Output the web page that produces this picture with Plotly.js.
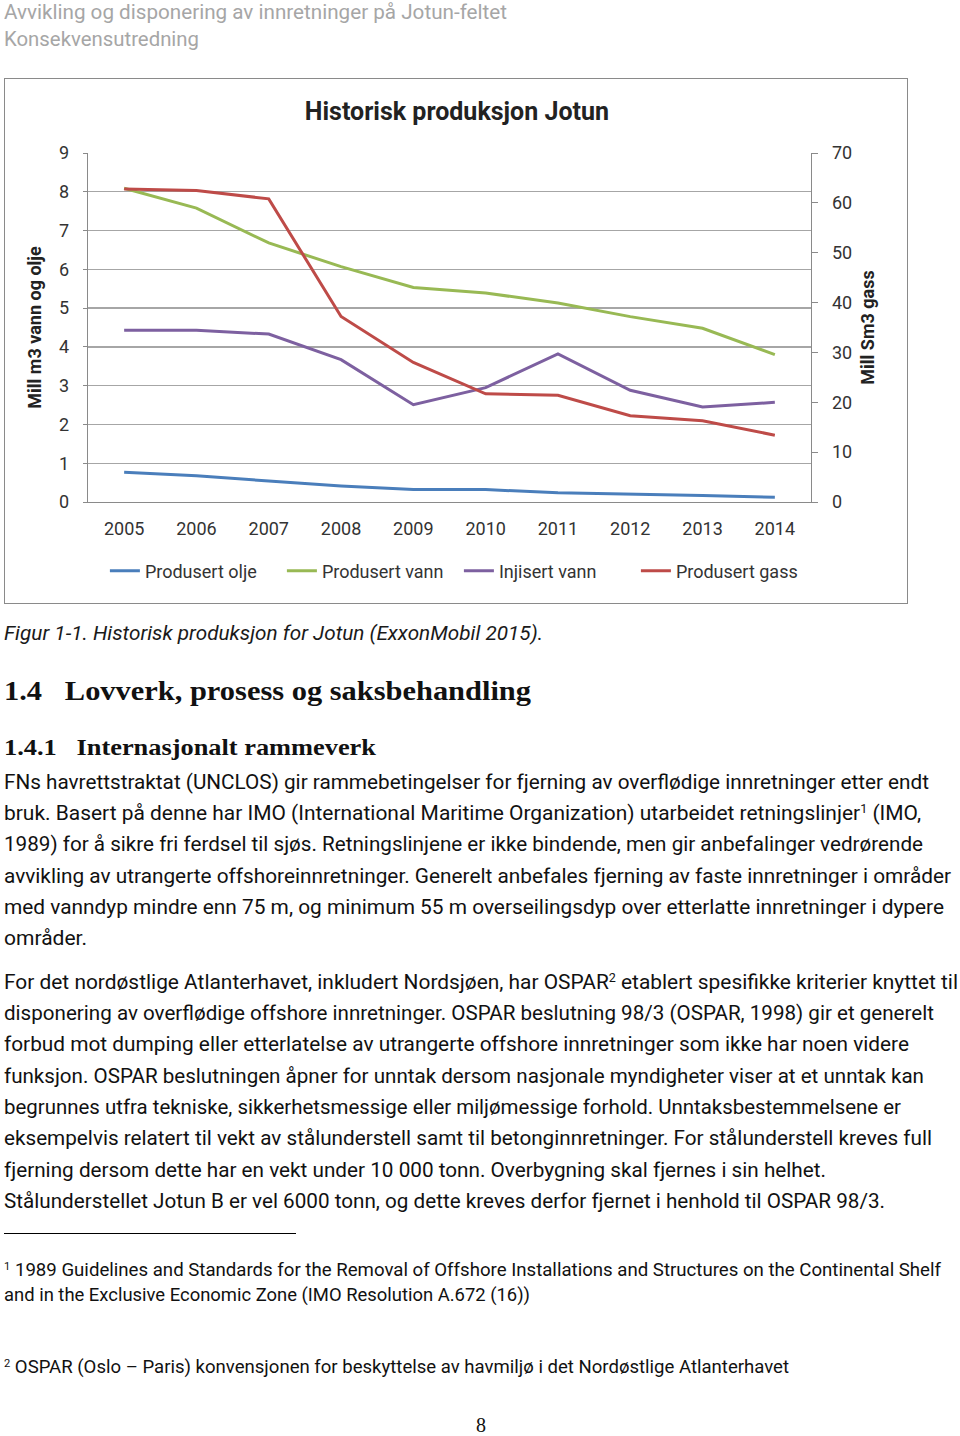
<!DOCTYPE html>
<html>
<head>
<meta charset="utf-8">
<script src="https://cdn.plot.ly/plotly-3.0.1.min.js"></script>
<style>
  html, body { margin:0; padding:0; background:#fff; }
  body { width:960px; height:1436px; position:relative; overflow:hidden; font-family: Roboto, "Noto Sans", sans-serif; }
  .ln { position:absolute; white-space:nowrap; transform-origin:0 50%; color:#111; }
  #frame { position:absolute; left:4px; top:78px; width:904px; height:526px; border:1px solid #8a8a8a; box-sizing:border-box; }
  #chart { position:absolute; left:0; top:0; width:902px; height:524px; }
  #sep { position:absolute; left:4px; top:1233px; width:292px; height:0; border-top:1px solid #000; }
  sup { font-size:0.6em; vertical-align:0.55em; line-height:0; }
</style>
</head>
<body>
<div id="frame"><div id="chart"></div></div>
<div id="sep"></div>
<script>
// ---- chart data ----
const years = ['2005','2006','2007','2008','2009','2010','2011','2012','2013','2014'];
const produsertOlje  = [0.77, 0.68, 0.54, 0.41, 0.32, 0.32, 0.24, 0.21, 0.17, 0.12];
const produsertVann  = [8.09, 7.58, 6.68, 6.07, 5.53, 5.39, 5.13, 4.78, 4.48, 3.80];
const injisertVann   = [4.43, 4.43, 4.33, 3.67, 2.51, 2.95, 3.82, 2.88, 2.45, 2.57];
const produsertGass  = [62.8, 62.5, 60.8, 37.2, 28.0, 21.7, 21.4, 17.3, 16.3, 13.4];
const seriesNames = ['Produsert olje', 'Produsert vann', 'Injisert vann', 'Produsert gass'];
const leftTicks = [0,1,2,3,4,5,6,7,8,9];
const rightTicks = [0,10,20,30,40,50,60,70];
const chartTitle = 'Historisk produksjon Jotun';
const leftTitle = 'Mill m3 vann og olje';
const rightTitle = 'Mill Sm3 gass';

const FONT = 'Roboto, "Noto Sans", sans-serif';
const colors = ['#4A7EBB', '#98B954', '#7D60A0', '#BE4B48'];

const traces = [
  {x: years, y: produsertOlje, name: seriesNames[0], yaxis:'y'},
  {x: years, y: produsertVann, name: seriesNames[1], yaxis:'y'},
  {x: years, y: injisertVann, name: seriesNames[2], yaxis:'y'},
  {x: years, y: produsertGass, name: seriesNames[3], yaxis:'y2'}
].map((t,i)=>Object.assign(t,{type:'scatter', mode:'lines', line:{color:colors[i], width:3}, hoverinfo:'skip'}));

const layout = {
  width: 902, height: 524,
  margin: {l:83, r:96, t:74, b:101},
  paper_bgcolor:'#fff', plot_bgcolor:'#fff',
  font: {family: FONT, color:'#333', size:18},
  title: {text: '<b>'+chartTitle+'</b>', font:{size:25, color:'#222', family:FONT}, xref:'container', x:0.501, yref:'container', y:0.939, xanchor:'center', yanchor:'middle'},
  showlegend: true,
  legend: {orientation:'h', x:0.513, xanchor:'center', y:-0.198, yanchor:'middle', font:{size:18, color:'#333'}, itemwidth:30, entrywidth:132, entrywidthmode:'pixels', tracegroupgap:0},
  xaxis: {type:'category', range:[-0.5, 9.5], showgrid:false, showline:true, linecolor:'#8a8a8a', linewidth:1.3, ticks:'', tickfont:{size:18}, ticklabelstandoff:10, fixedrange:true},
  yaxis: {range:[0,9], tickvals:leftTicks, ticktext:leftTicks.map(String), showgrid:true, gridcolor:'#a6a6a6', gridwidth:1.3, showline:true, linecolor:'#8a8a8a', linewidth:1.3, ticks:'outside', ticklen:4, tickcolor:'#8a8a8a', ticklabelstandoff:10, zeroline:false,
          title:{text:'<b>'+leftTitle+'</b>', font:{size:18, color:'#222'}, standoff:12}},
  yaxis2: {overlaying:'y', side:'right', range:[0,70], tickvals:rightTicks, ticktext:rightTicks.map(String), showgrid:false, showline:true, linecolor:'#8a8a8a', linewidth:1.3, ticks:'outside', ticklen:6, tickcolor:'#8a8a8a', ticklabelstandoff:10, zeroline:false,
          title:{text:'<b>'+rightTitle+'</b>', font:{size:18, color:'#222'}, standoff:10}}
};
Plotly.newPlot('chart', traces, layout, {staticPlot:true, displayModeBar:false});

// ---- page text ----
const BODY = 'Roboto, "Noto Sans", sans-serif';
const SERIF = '"Liberation Serif", "DejaVu Serif", serif';
const lines = [
  {t:'Avvikling og disponering av innretninger på Jotun-feltet', y:12, w:503, s:20, c:'#a6a6a6'},
  {t:'Konsekvensutredning', y:39, w:195, s:20, c:'#a6a6a6'},
  {t:'Figur 1-1. Historisk produksjon for Jotun (ExxonMobil 2015).', y:633, w:539, s:20, st:'italic', c:'#1a1a1a'},
  {t:'1.4&nbsp;&nbsp;&nbsp;Lovverk, prosess og saksbehandling', y:692, w:527, s:27, f:SERIF, wt:'bold'},
  {t:'1.4.1&nbsp;&nbsp;&nbsp;Internasjonalt rammeverk', y:748, w:372, s:24, f:SERIF, wt:'bold'},
  {t:'FNs havrettstraktat (UNCLOS) gir rammebetingelser for fjerning av overflødige innretninger etter endt', y:782, w:925},
  {t:'bruk. Basert på denne har IMO (International Maritime Organization) utarbeidet retningslinjer<sup>1</sup> (IMO,', y:813, w:917},
  {t:'1989) for å sikre fri ferdsel til sjøs. Retningslinjene er ikke bindende, men gir anbefalinger vedrørende', y:844, w:919},
  {t:'avvikling av utrangerte offshoreinnretninger. Generelt anbefales fjerning av faste innretninger i områder', y:876, w:947},
  {t:'med vanndyp mindre enn 75 m, og minimum 55 m overseilingsdyp over etterlatte innretninger i dypere', y:907, w:940},
  {t:'områder.', y:938, w:83},
  {t:'For det nordøstlige Atlanterhavet, inkludert Nordsjøen, har OSPAR<sup>2</sup> etablert spesifikke kriterier knyttet til', y:982, w:954},
  {t:'disponering av overflødige offshore innretninger. OSPAR beslutning 98/3 (OSPAR, 1998) gir et generelt', y:1013, w:930},
  {t:'forbud mot dumping eller etterlatelse av utrangerte offshore innretninger som ikke har noen videre', y:1044, w:905},
  {t:'funksjon. OSPAR beslutningen åpner for unntak dersom nasjonale myndigheter viser at et unntak kan', y:1076, w:920},
  {t:'begrunnes utfra tekniske, sikkerhetsmessige eller miljømessige forhold. Unntaksbestemmelsene er', y:1107, w:897},
  {t:'eksempelvis relatert til vekt av stålunderstell samt til betonginnretninger. For stålunderstell kreves full', y:1138, w:928},
  {t:'fjerning dersom dette har en vekt under 10 000 tonn. Overbygning skal fjernes i sin helhet.', y:1170, w:822},
  {t:'Stålunderstellet Jotun B er vel 6000 tonn, og dette kreves derfor fjernet i henhold til OSPAR 98/3.', y:1201, w:881},
  {t:'<sup>1</sup> 1989 Guidelines and Standards for the Removal of Offshore Installations and Structures on the Continental Shelf', y:1270, w:937, s:18},
  {t:'and in the Exclusive Economic Zone (IMO Resolution A.672 (16))', y:1295, w:526, s:18},
  {t:'<sup>2</sup> OSPAR (Oslo – Paris) konvensjonen for beskyttelse av havmiljø i det Nordøstlige Atlanterhavet', y:1367, w:785, s:18},
  {t:'8', y:1425, x:476, w:10, s:20, f:SERIF}
];
lines.forEach(L=>{
  const d = document.createElement('div');
  d.className = 'ln';
  const s = L.s || 20;
  d.style.fontSize = s+'px';
  d.style.lineHeight = (s*1.3)+'px';
  d.style.fontFamily = L.f || BODY;
  if (L.wt) d.style.fontWeight = L.wt;
  if (L.st) d.style.fontStyle = L.st;
  if (L.c) d.style.color = L.c;
  d.style.left = (L.x!==undefined ? L.x : 4)+'px';
  d.style.top = (L.y - s*0.65)+'px';
  d.innerHTML = L.t;
  document.body.appendChild(d);
  const w = d.getBoundingClientRect().width;
  if (w > 0) d.style.transform = 'scaleX('+(L.w/w)+')';
});
</script>
</body>
</html>
